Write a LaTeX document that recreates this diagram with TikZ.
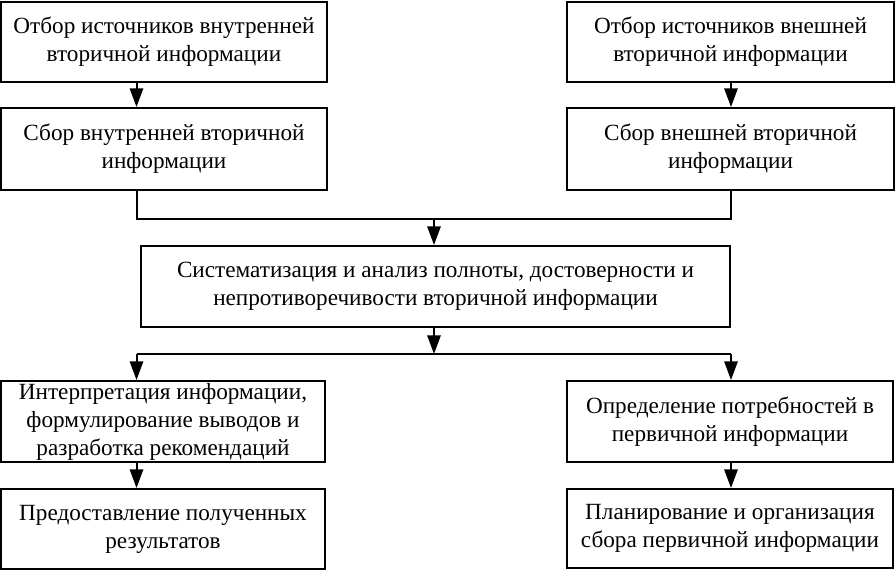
\documentclass[tikz,border=0pt]{standalone}
\usepackage{fontspec}
\setmainfont{Liberation Serif}
\usetikzlibrary{arrows.meta}
\begin{document}
\begin{tikzpicture}[x=0.75pt,y=-0.75pt,
  box/.style={draw,line width=1.5pt,align=center,inner sep=0pt,font=\fontsize{17.4}{21}\selectfont},
  arr/.style={line width=1.5pt,-{Triangle[width=10pt,length=14pt]}},
  ln/.style={line width=1.5pt}]
\useasboundingbox (0,0) rectangle (895,571);
\node[box,minimum width=244.5pt,minimum height=60pt] (b1) at (164,42) {Отбор источников внутренней\\вторичной информации};
\node[box,minimum width=245.25pt,minimum height=60pt] (b2) at (730.5,42) {Отбор источников внешней\\вторичной информации};
\node[box,minimum width=244.5pt,minimum height=61.5pt] (b3) at (164,149) {Сбор внутренней вторичной\\информации};
\node[box,minimum width=245.25pt,minimum height=61.5pt] (b4) at (730.5,149) {Сбор внешней вторичной\\информации};
\node[box,minimum width=441.75pt,minimum height=60.75pt] (b5) at (435.5,286.5) {Систематизация и анализ полноты, достоверности и\\непротиворечивости вторичной информации};
\node[box,minimum width=243pt,minimum height=60.75pt] (b6) at (163,421.5) {Интерпретация информации,\\формулирование выводов и\\разработка рекомендаций};
\node[box,minimum width=244.5pt,minimum height=60.75pt] (b7) at (730,421.5) {Определение потребностей в\\первичной информации};
\node[box,minimum width=243pt,minimum height=60pt] (b8) at (163,529) {Предоставление полученных\\результатов};
\node[box,minimum width=244.5pt,minimum height=59.25pt] (b9) at (730,528.5) {Планирование и организация\\сбора первичной информации};
\coordinate (xl) at (136.5,0);
\coordinate (xr) at (731,0);
\coordinate (xc) at (434,0);
\coordinate (j1) at (0,218.5);
\coordinate (j2) at (0,354);
\draw[arr] (b1.south -| xl) -- (b3.north -| xl);
\draw[arr] (b2.south -| xr) -- (b4.north -| xr);
\draw[ln] (b3.south -| xl) -- (j1 -| xl) -- (j1 -| xr) -- (b4.south -| xr);
\draw[arr] (j1 -| xc) -- (b5.north -| xc);
\draw[arr] (b5.south -| xc) -- (j2 -| xc);
\draw[ln] (j2 -| xl) -- (j2 -| xr);
\draw[arr] (j2 -| xl) -- (b6.north -| xl);
\draw[arr] (j2 -| xr) -- (b7.north -| xr);
\draw[arr] (b6.south -| xl) -- (b8.north -| xl);
\draw[arr] (b7.south -| xr) -- (b9.north -| xr);
\end{tikzpicture}
\end{document}
